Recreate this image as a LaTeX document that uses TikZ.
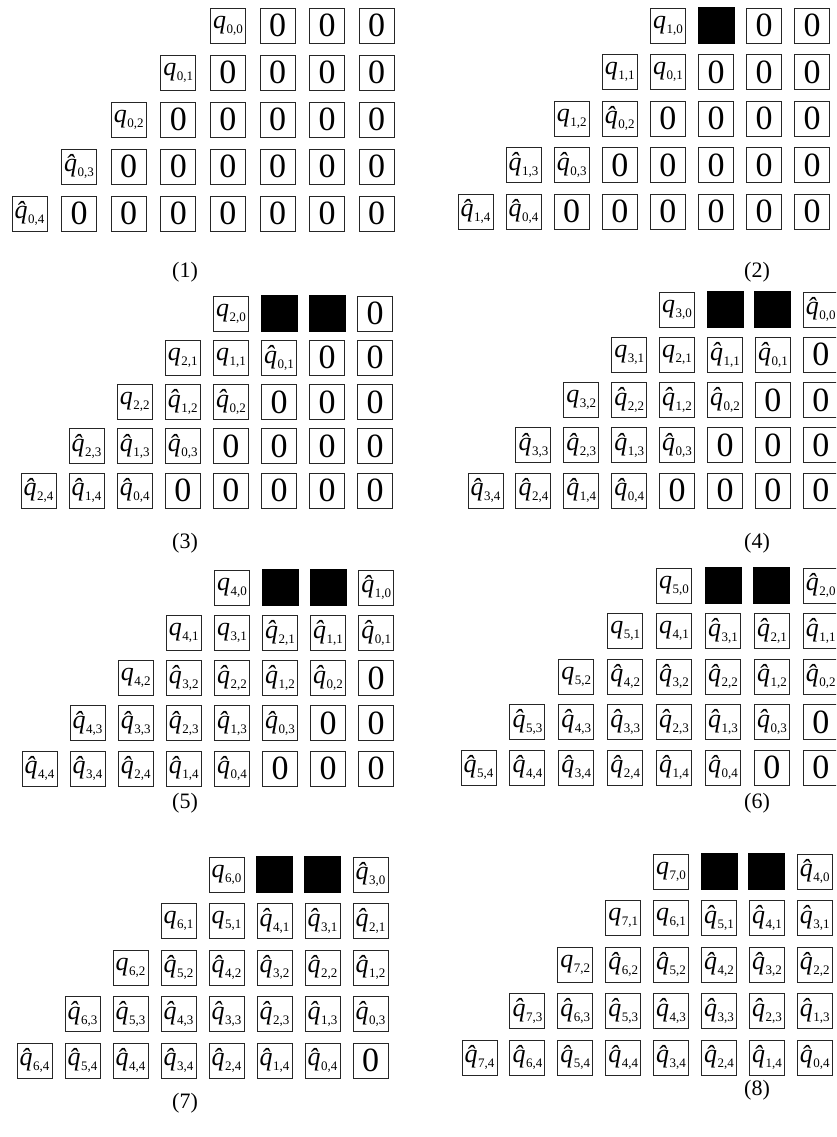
\documentclass[tikz,border=0pt]{standalone}
\usepackage{fontspec}
\setmainfont{Liberation Serif}
\newcommand\qsub[1]{\raisebox{-5pt}{\fontsize{13}{13}\selectfont #1}}
\newcommand\qq[2]{{\fontsize{26}{26}\selectfont\itshape q}\kern0.5pt\qsub{#1,#2}}
\newcommand\qh[2]{{\fontsize{26}{26}\selectfont\itshape q^^^^0302}\kern0.5pt\qsub{#1,#2}}
\newcommand\setpanel[5]{\def\pid{#1}\def\pxo{#2}\def\pyo{#3}\def\pdx{#4}\def\pdy{#5}}
\newcommand\prow[2]{%
  \foreach \st/\lab [count=\j from 0] in {#2}{%
    \pgfmathsetmacro\cx{\pxo+(4-#1+\j)*\pdx+17.5}%
    \pgfmathsetmacro\cy{\pyo+#1*\pdy+17.5}%
    \node[\st] (p\pid r#1c\j) at (\cx,\cy) {\lab};
  }}
\tikzset{
  cb/.style={draw=black!85, line width=0.9pt, minimum width=35pt, minimum height=35pt,
    inner sep=0pt, fill=white, font=\fontsize{34}{34}\selectfont},
  kb/.style={fill=black, minimum width=37pt, minimum height=37pt, inner sep=0pt},
  captxt/.style={font=\fontsize{22}{22}\selectfont, inner sep=0pt}
}
\begin{document}
\begin{tikzpicture}[x=1pt,y=-1pt]
\useasboundingbox (0,0) rectangle (836,1137);
\fill[white] (0,0) rectangle (836,1137);
\clip (0,0) rectangle (836,1137);
% Panel 1
\setpanel{1}{12}{8}{49.6}{47}
\prow{0}{cb/\qq{0}{0},cb/0,cb/0,cb/0}
\prow{1}{cb/\qq{0}{1},cb/0,cb/0,cb/0,cb/0}
\prow{2}{cb/\qq{0}{2},cb/0,cb/0,cb/0,cb/0,cb/0}
\prow{3}{cb/\qh{0}{3},cb/0,cb/0,cb/0,cb/0,cb/0,cb/0}
\prow{4}{cb/\qh{0}{4},cb/0,cb/0,cb/0,cb/0,cb/0,cb/0,cb/0}
\node[captxt] (cap1) at (185,272) {(1)};
% Panel 2
\setpanel{2}{458}{8}{48.1}{46.5}
\prow{0}{cb/\qq{1}{0},kb/{},cb/0,cb/0}
\prow{1}{cb/\qq{1}{1},cb/\qq{0}{1},cb/0,cb/0,cb/0}
\prow{2}{cb/\qq{1}{2},cb/\qh{0}{2},cb/0,cb/0,cb/0,cb/0}
\prow{3}{cb/\qh{1}{3},cb/\qh{0}{3},cb/0,cb/0,cb/0,cb/0,cb/0}
\prow{4}{cb/\qh{1}{4},cb/\qh{0}{4},cb/0,cb/0,cb/0,cb/0,cb/0,cb/0}
\node[captxt] (cap2) at (757,272) {(2)};
% Panel 3
\setpanel{3}{21}{296}{48.1}{44.25}
\prow{0}{cb/\qq{2}{0},kb/{},kb/{},cb/0}
\prow{1}{cb/\qq{2}{1},cb/\qq{1}{1},cb/\qh{0}{1},cb/0,cb/0}
\prow{2}{cb/\qq{2}{2},cb/\qh{1}{2},cb/\qh{0}{2},cb/0,cb/0,cb/0}
\prow{3}{cb/\qh{2}{3},cb/\qh{1}{3},cb/\qh{0}{3},cb/0,cb/0,cb/0,cb/0}
\prow{4}{cb/\qh{2}{4},cb/\qh{1}{4},cb/\qh{0}{4},cb/0,cb/0,cb/0,cb/0,cb/0}
\node[captxt] (cap3) at (185,543) {(3)};
% Panel 4
\setpanel{4}{468}{292}{47.9}{45.25}
\prow{0}{cb/\qq{3}{0},kb/{},kb/{},cb/\qh{0}{0}}
\prow{1}{cb/\qq{3}{1},cb/\qq{2}{1},cb/\qh{1}{1},cb/\qh{0}{1},cb/0}
\prow{2}{cb/\qq{3}{2},cb/\qh{2}{2},cb/\qh{1}{2},cb/\qh{0}{2},cb/0,cb/0}
\prow{3}{cb/\qh{3}{3},cb/\qh{2}{3},cb/\qh{1}{3},cb/\qh{0}{3},cb/0,cb/0,cb/0}
\prow{4}{cb/\qh{3}{4},cb/\qh{2}{4},cb/\qh{1}{4},cb/\qh{0}{4},cb/0,cb/0,cb/0,cb/0}
\node[captxt] (cap4) at (757,543) {(4)};
% Panel 5
\setpanel{5}{22}{570}{48.1}{45.25}
\prow{0}{cb/\qq{4}{0},kb/{},kb/{},cb/\qh{1}{0}}
\prow{1}{cb/\qq{4}{1},cb/\qq{3}{1},cb/\qh{2}{1},cb/\qh{1}{1},cb/\qh{0}{1}}
\prow{2}{cb/\qq{4}{2},cb/\qh{3}{2},cb/\qh{2}{2},cb/\qh{1}{2},cb/\qh{0}{2},cb/0}
\prow{3}{cb/\qh{4}{3},cb/\qh{3}{3},cb/\qh{2}{3},cb/\qh{1}{3},cb/\qh{0}{3},cb/0,cb/0}
\prow{4}{cb/\qh{4}{4},cb/\qh{3}{4},cb/\qh{2}{4},cb/\qh{1}{4},cb/\qh{0}{4},cb/0,cb/0,cb/0}
\node[captxt] (cap5) at (185,803) {(5)};
% Panel 6
\setpanel{6}{461}{568}{48.9}{45.5}
\prow{0}{cb/\qq{5}{0},kb/{},kb/{},cb/\qh{2}{0}}
\prow{1}{cb/\qq{5}{1},cb/\qq{4}{1},cb/\qh{3}{1},cb/\qh{2}{1},cb/\qh{1}{1}}
\prow{2}{cb/\qq{5}{2},cb/\qh{4}{2},cb/\qh{3}{2},cb/\qh{2}{2},cb/\qh{1}{2},cb/\qh{0}{2}}
\prow{3}{cb/\qh{5}{3},cb/\qh{4}{3},cb/\qh{3}{3},cb/\qh{2}{3},cb/\qh{1}{3},cb/\qh{0}{3},cb/0}
\prow{4}{cb/\qh{5}{4},cb/\qh{4}{4},cb/\qh{3}{4},cb/\qh{2}{4},cb/\qh{1}{4},cb/\qh{0}{4},cb/0,cb/0}
\node[captxt] (cap6) at (757,803) {(6)};
% Panel 7
\setpanel{7}{17}{857}{48}{46.5}
\prow{0}{cb/\qq{6}{0},kb/{},kb/{},cb/\qh{3}{0}}
\prow{1}{cb/\qq{6}{1},cb/\qq{5}{1},cb/\qh{4}{1},cb/\qh{3}{1},cb/\qh{2}{1}}
\prow{2}{cb/\qq{6}{2},cb/\qh{5}{2},cb/\qh{4}{2},cb/\qh{3}{2},cb/\qh{2}{2},cb/\qh{1}{2}}
\prow{3}{cb/\qh{6}{3},cb/\qh{5}{3},cb/\qh{4}{3},cb/\qh{3}{3},cb/\qh{2}{3},cb/\qh{1}{3},cb/\qh{0}{3}}
\prow{4}{cb/\qh{6}{4},cb/\qh{5}{4},cb/\qh{4}{4},cb/\qh{3}{4},cb/\qh{2}{4},cb/\qh{1}{4},cb/\qh{0}{4},cb/0}
\node[captxt] (cap7) at (185,1103) {(7)};
% Panel 8
\setpanel{8}{462}{854}{47.9}{46.5}
\prow{0}{cb/\qq{7}{0},kb/{},kb/{},cb/\qh{4}{0}}
\prow{1}{cb/\qq{7}{1},cb/\qq{6}{1},cb/\qh{5}{1},cb/\qh{4}{1},cb/\qh{3}{1}}
\prow{2}{cb/\qq{7}{2},cb/\qh{6}{2},cb/\qh{5}{2},cb/\qh{4}{2},cb/\qh{3}{2},cb/\qh{2}{2}}
\prow{3}{cb/\qh{7}{3},cb/\qh{6}{3},cb/\qh{5}{3},cb/\qh{4}{3},cb/\qh{3}{3},cb/\qh{2}{3},cb/\qh{1}{3}}
\prow{4}{cb/\qh{7}{4},cb/\qh{6}{4},cb/\qh{5}{4},cb/\qh{4}{4},cb/\qh{3}{4},cb/\qh{2}{4},cb/\qh{1}{4},cb/\qh{0}{4}}
\node[captxt] (cap8) at (757,1090) {(8)};
\end{tikzpicture}
\end{document}
